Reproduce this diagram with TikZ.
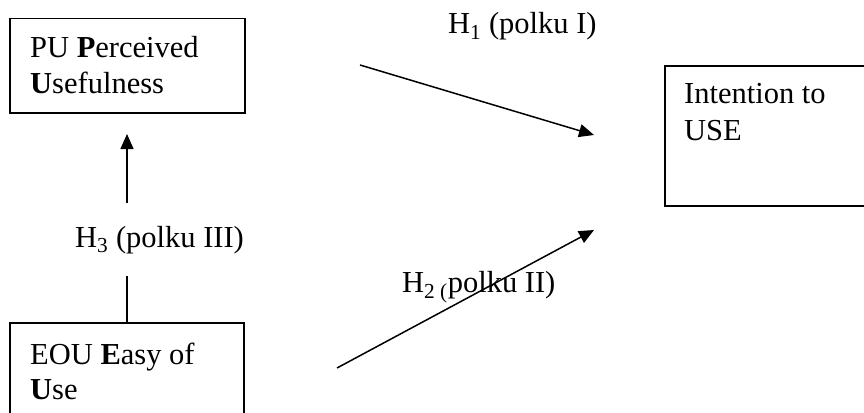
\documentclass[tikz,border=0pt]{standalone}
\usepackage{fontspec}
\setmainfont{Liberation Serif}
\usetikzlibrary{arrows.meta}
\begin{document}
\begin{tikzpicture}[x=1pt,y=-1pt,
  box/.style={draw=black,line width=1.5pt,anchor=north west,inner sep=0pt},
  txt/.style={anchor=base west,inner sep=0pt,font=\fontsize{30.5pt}{36pt}\selectfont},
  conn/.style={draw=black,line width=1.5pt},
  arr/.style={conn,-{Triangle[length=15pt,width=13pt]}}]
\useasboundingbox (0,0) rectangle (864,412);
\clip (0,0) rectangle (864,412);
% boxes
\node[box,minimum width=235pt,minimum height=94pt] (pu) at (9,18) {};
\node[box,minimum width=234pt,minimum height=110pt] (eou) at (9,322) {};
\node[box,minimum width=220pt,minimum height=140pt] (iu) at (664,65) {};
% box texts
\node[txt] (pu1) at (30,57) {PU \textbf{P}erceived};
\node[txt] (pu2) at (30,93) {\textbf{U}sefulness};
\node[txt] (eou1) at (30,364) {EOU \textbf{E}asy of};
\node[txt] (eou2) at (30,399) {\textbf{U}se};
\node[txt] (iu1) at (684,103) {Intention to};
\node[txt] (iu2) at (684,140) {USE};
% labels
\node[txt] (h1) at (448,34) {H\textsubscript{1} (polku I)};
\node[txt] (h3) at (75,247) {H\textsubscript{3} (polku III)};
\node[txt] (h2) at (402,292) {H\textsubscript{2 (}polku II)};
% connector end points
\coordinate (a1s) at (360,65);
\coordinate (a1e) at (594,135);
\coordinate (a2s) at (337,368);
\coordinate (a2e) at (594,230);
\coordinate (a3s) at (127,203);
\coordinate (a3e) at (127,134);
\coordinate (l3e) at (127,276);
% connectors
\draw[arr] (a1s) -- (a1e);
\draw[arr] (a2s) -- (a2e);
\draw[arr] (a3s) -- (a3e);
\draw[conn] (eou.north -| l3e) -- (l3e);
\end{tikzpicture}
\end{document}
